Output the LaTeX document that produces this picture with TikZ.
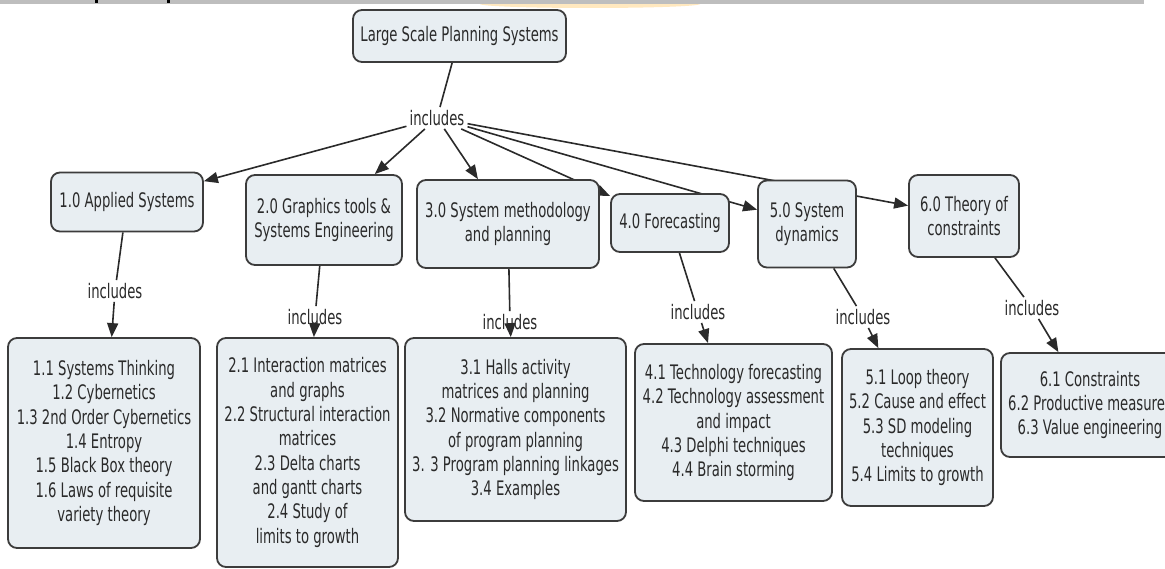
\documentclass[tikz,border=0pt]{standalone}
\usepackage{fontspec}
\setmainfont{DejaVu Sans}[FakeStretch=0.66]
\usetikzlibrary{arrows.meta,backgrounds}
\definecolor{boxfill}{HTML}{E8EEF2}
\definecolor{boxline}{HTML}{3C3C3C}
\definecolor{txt}{HTML}{2A2A2A}
\definecolor{barcol}{HTML}{BEBEBE}
\begin{document}
\begin{tikzpicture}[x=1pt,y=-1pt,
  concept/.style={draw=boxline, line width=1.8pt, fill=boxfill, rounded corners=9pt,
    align=center, text=txt, font=\fontsize{20}{24.3}\selectfont, inner sep=0pt},
  linkword/.style={text=txt, font=\fontsize{20}{24}\selectfont, inner sep=3pt},
  conn/.style={draw=txt, line width=1.6pt},
  arr/.style={conn, -{Triangle[length=14pt,width=11pt]}}
]
\useasboundingbox (0,0) rectangle (1165,569);
\clip (0,0) rectangle (1165,569);

% level 0
\node[concept, minimum width=213pt, minimum height=52pt] (root) at (459.5,36) {Large Scale Planning Systems};
\node[linkword] (i0) at (437,118) {includes};

% level 1
\node[concept, minimum width=152pt, minimum height=59pt] (n1) at (127,202) {1.0 Applied Systems};
\node[concept, minimum width=156pt, minimum height=90pt] (n2) at (324,220) {2.0 Graphics tools \&\\Systems Engineering};
\node[concept, minimum width=182pt, minimum height=88pt] (n3) at (508,224) {3.0 System methodology\\and planning};
\node[concept, minimum width=118pt, minimum height=58pt] (n4) at (670,223) {4.0 Forecasting};
\node[concept, minimum width=98pt, minimum height=87pt] (n5) at (807,224) {5.0 System\\dynamics};
\node[concept, minimum width=110pt, minimum height=82pt] (n6) at (964,216) {6.0 Theory of\\constraints};

% linking words
\node[linkword] (i1) at (115,291) {includes};
\node[linkword] (i2) at (315,317) {includes};
\node[linkword] (i3) at (510,322) {includes};
\node[linkword] (i4) at (698,312) {includes};
\node[linkword] (i5) at (863,317) {includes};
\node[linkword] (i6) at (1032,308) {includes};

% level 2
\node[concept, minimum width=192pt, minimum height=210pt] (m1) at (104,443)
  {1.1 Systems Thinking\\1.2 Cybernetics\\1.3 2nd Order Cybernetics\\1.4 Entropy\\1.5 Black Box theory\\1.6 Laws of requisite\\variety theory};
\node[concept, minimum width=181pt, minimum height=229pt] (m2) at (307.5,452.5)
  {2.1 Interaction matrices\\and graphs\\2.2 Structural interaction\\matrices\\2.3 Delta charts\\and gantt charts\\2.4 Study of\\limits to growth};
\node[concept, minimum width=221pt, minimum height=183pt] (m3) at (515.5,429.5)
  {3.1 Halls activity\\matrices and planning\\3.2 Normative components\\of program planning\\3. 3 Program planning linkages\\3.4 Examples};
\node[concept, minimum width=197pt, minimum height=157pt] (m4) at (733.5,422.5)
  {4.1 Technology forecasting\\4.2 Technology assessment\\and impact\\4.3 Delphi techniques\\4.4 Brain storming};
\node[concept, minimum width=151pt, minimum height=157pt] (m5) at (917.5,427.5)
  {5.1 Loop theory\\5.2 Cause and effect\\5.3 SD modeling\\techniques\\5.4 Limits to growth};
\node[concept, minimum width=178pt, minimum height=104pt] (m6) at (1090,405)
  {6.1 Constraints\\6.2 Productive measures\\6.3 Value engineering};

% connectors (behind the boxes)
\begin{pgfonlayer}{background}
\fill[white] (0,0) rectangle (1165,569);
\draw[conn] (root) -- (i0);
\foreach \t in {n1,n2,n3,n4,n5,n6} \draw[arr] (i0) -- (\t);
\draw[conn] (n1) -- (i1); \draw[arr] (i1) -- (m1);
\draw[conn] (n2) -- (i2); \draw[arr] (i2) -- (m2);
\draw[conn] (n3) -- (i3); \draw[arr] (i3) -- (m3);
\draw[conn] (n4) -- (i4); \draw[arr] (i4) -- (m4);
\draw[conn] (n5) -- (i5); \draw[arr] (i5) -- (m5);
\draw[conn] (n6) -- (i6); \draw[arr] (i6) -- (m6);
\end{pgfonlayer}

% top strip remnant
\fill[orange!70!yellow, opacity=0.25] (590,4) ellipse [x radius=110, y radius=4];
\fill[barcol] (0,0) rectangle (1144,4.5);
\fill[black] (95,0) rectangle (97.5,3);
\fill[black] (167,0) rectangle (169.5,3);
\end{tikzpicture}
\end{document}
